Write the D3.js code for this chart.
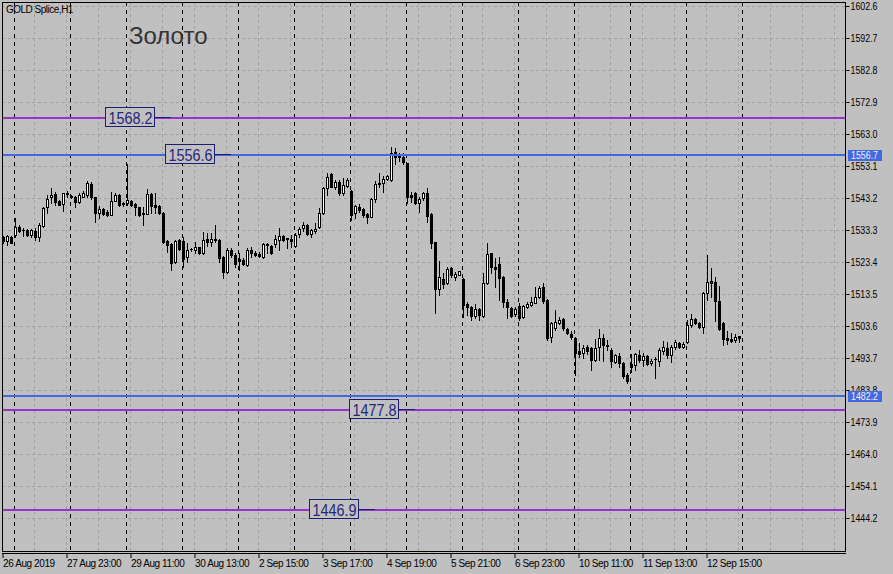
<!DOCTYPE html>
<html><head><meta charset="utf-8">
<script src="https://cdn.jsdelivr.net/npm/d3@7"></script>
<style>html,body{margin:0;padding:0;background:#c0c0c0;} svg{display:block;}</style>
</head><body><svg id="c" width="893" height="574"></svg>
<script>
const open=[1531.0,1530.0,1531.0,1531.7,1534.1,1533.3,1533.3,1531.7,1533.1,1531.2,1534.6,1540.3,1543.4,1544.4,1542.2,1541.4,1544.4,1543.8,1543.6,1541.9,
1543.6,1544.2,1547.5,1543.4,1538.5,1539.8,1539.0,1538.0,1542.4,1544.1,1541.6,1541.6,1542.2,1541.4,1540.3,1538.5,1538.3,1544.4,1541.0,1540.7,
1538.7,1530.0,1529.0,1523.5,1530.2,1530.0,1524.8,1527.3,1527.1,1527.9,1526.1,1530.5,1529.7,1530.5,1530.2,1525.0,1520.4,1527.1,1525.6,1524.3,
1524.0,1522.5,1527.1,1526.1,1525.8,1525.0,1528.9,1528.4,1528.9,1530.2,1531.5,1530.7,1530.4,1528.4,1532.0,1533.8,1534.8,1532.0,1532.9,1534.1,
1538.5,1546.2,1550.6,1546.5,1548.3,1544.6,1547.0,1545.5,1538.5,1540.5,1539.7,1538.3,1537.4,1542.8,1547.5,1547.9,1549.0,1548.8,1557.5,1556.5,
1556.0,1553.9,1544.1,1544.6,1541.8,1543.1,1544.9,1538.3,1529.6,1515.2,1518.0,1516.8,1521.4,1518.9,1519.5,1518.0,1510.4,1509.4,1506.8,1508.9,
1506.8,1517.0,1526.1,1522.0,1522.8,1518.9,1510.9,1509.3,1507.2,1509.8,1506.5,1509.6,1510.2,1510.8,1512.7,1515.8,1511.7,1500.1,1502.9,1504.6,
1505.7,1502.7,1501.1,1499.8,1496.0,1495.4,1497.0,1496.7,1493.1,1497.0,1499.8,1497.7,1496.2,1492.6,1494.3,1492.3,1488.4,1491.9,1491.5,1494.6,
1493.1,1494.3,1492.1,1493.5,1492.9,1496.0,1496.7,1494.6,1497.0,1498.2,1497.0,1498.8,1503.9,1505.7,1504.6,1503.4,1513.7,1517.6,1517.2,1511.4,
1504.5,1499.8,1499.6,1499.3,1500.5];
const high=[1531.5,1531.7,1531.5,1536.9,1534.8,1533.8,1533.5,1533.7,1533.8,1535.4,1540.5,1544.1,1546.2,1545.2,1542.6,1544.9,1545.5,1544.0,1543.8,1544.6,
1545.5,1548.6,1548.0,1543.6,1540.7,1540.0,1539.5,1545.2,1544.6,1544.4,1542.1,1553.7,1542.6,1541.8,1540.5,1540.5,1545.9,1544.6,1544.6,1540.9,
1538.9,1530.2,1529.2,1530.2,1530.6,1531.2,1529.2,1527.7,1529.7,1528.1,1532.8,1532.5,1532.3,1535.0,1530.4,1525.2,1527.6,1527.6,1526.1,1526.1,
1524.5,1527.6,1527.9,1526.9,1526.6,1529.2,1529.2,1528.6,1531.7,1533.8,1531.7,1530.9,1531.7,1532.3,1534.3,1535.9,1535.2,1533.5,1535.4,1540.0,
1546.5,1550.8,1550.8,1548.8,1548.8,1549.3,1549.3,1545.7,1541.0,1541.3,1540.0,1538.7,1543.1,1548.6,1550.8,1550.0,1550.3,1559.1,1558.6,1557.2,
1557.0,1554.1,1545.2,1545.2,1543.6,1545.2,1546.2,1538.5,1529.7,1523.8,1519.9,1522.0,1522.0,1520.4,1520.7,1518.4,1511.1,1509.8,1510.4,1509.1,
1520.1,1529.2,1526.3,1524.5,1524.8,1519.1,1511.9,1509.6,1509.6,1510.6,1510.1,1511.0,1512.7,1515.8,1516.0,1517.0,1512.0,1504.9,1508.6,1506.3,
1506.0,1503.0,1501.9,1500.3,1498.2,1497.7,1497.7,1497.0,1499.5,1502.6,1501.1,1499.3,1496.7,1494.9,1495.1,1492.6,1489.0,1494.9,1495.4,1496.2,
1495.1,1494.6,1493.5,1494.1,1496.7,1499.1,1498.8,1497.7,1499.3,1498.8,1498.5,1505.5,1507.3,1506.0,1504.9,1514.2,1525.6,1521.4,1518.9,1516.0,
1504.9,1501.9,1501.3,1501.0,1500.5];
const low=[1529.2,1528.8,1529.2,1531.2,1532.8,1531.5,1531.5,1531.0,1530.2,1530.0,1534.3,1538.5,1541.6,1541.0,1540.9,1539.3,1543.6,1543.2,1540.5,1541.6,
1543.4,1543.6,1542.8,1535.9,1536.9,1537.8,1537.6,1537.8,1542.2,1540.7,1540.7,1541.0,1540.7,1538.0,1537.6,1534.8,1538.1,1538.5,1538.5,1538.2,
1529.4,1526.6,1520.9,1523.0,1527.1,1522.0,1523.5,1526.9,1526.1,1525.9,1525.9,1528.4,1528.4,1529.7,1523.5,1518.4,1519.9,1525.0,1522.0,1520.9,
1522.5,1522.2,1525.0,1525.3,1524.8,1524.5,1526.1,1525.8,1528.1,1527.1,1530.0,1527.6,1527.9,1527.9,1531.2,1533.1,1531.7,1531.2,1532.5,1533.8,
1538.2,1544.1,1546.5,1545.9,1544.1,1544.1,1546.7,1536.4,1536.9,1539.0,1537.2,1535.6,1537.2,1542.1,1546.7,1545.2,1548.8,1548.6,1553.7,1554.8,
1553.7,1541.6,1542.1,1541.3,1539.0,1542.6,1535.9,1527.6,1507.5,1513.2,1515.3,1516.6,1518.9,1517.8,1519.3,1506.5,1507.0,1505.5,1506.0,1505.5,
1506.5,1516.6,1519.9,1515.8,1511.7,1509.6,1506.0,1506.5,1506.8,1505.5,1506.0,1509.1,1509.8,1510.6,1512.2,1510.8,1499.3,1498.8,1502.4,1504.2,
1502.4,1501.0,1499.5,1488.4,1494.1,1493.6,1494.9,1490.0,1492.9,1493.1,1492.9,1496.2,1491.0,1492.1,1491.0,1487.4,1485.9,1489.5,1490.0,1492.6,
1491.2,1491.5,1491.5,1487.4,1491.2,1494.9,1493.6,1492.6,1496.4,1496.7,1496.7,1498.2,1503.4,1504.2,1502.9,1501.5,1511.7,1512.7,1505.3,1502.4,
1497.7,1498.0,1498.8,1498.8,1498.8];
const close=[1530.0,1531.5,1529.4,1534.1,1533.1,1533.2,1531.7,1533.3,1531.0,1534.8,1540.0,1542.8,1544.0,1542.1,1541.1,1544.6,1544.6,1543.4,1542.1,1544.1,
1544.9,1547.7,1543.4,1538.7,1539.7,1538.3,1537.9,1542.4,1544.1,1541.0,1541.4,1542.5,1541.0,1540.3,1538.0,1538.2,1544.4,1540.7,1540.5,1538.5,
1529.7,1528.6,1523.2,1529.8,1527.3,1524.2,1527.1,1527.5,1527.9,1526.1,1530.2,1529.7,1530.5,1530.2,1524.7,1520.4,1527.1,1525.6,1522.8,1523.8,
1522.8,1527.1,1526.1,1525.6,1525.3,1529.0,1528.6,1526.1,1530.5,1531.5,1530.2,1530.5,1530.0,1531.7,1533.7,1534.8,1532.1,1533.3,1533.7,1538.5,
1546.2,1549.8,1546.7,1548.3,1544.9,1547.2,1548.8,1537.9,1540.7,1539.5,1537.9,1537.4,1542.8,1547.5,1547.9,1549.0,1550.0,1557.2,1556.0,1556.0,
1554.4,1543.6,1543.6,1541.6,1542.8,1544.9,1537.6,1529.4,1515.2,1518.9,1516.6,1521.1,1519.4,1519.7,1520.5,1510.2,1509.6,1506.8,1508.9,1507.0,
1516.8,1525.8,1521.8,1521.3,1518.4,1511.1,1509.4,1506.8,1508.9,1506.0,1509.9,1510.4,1511.0,1512.7,1515.4,1511.3,1500.0,1504.6,1504.8,1505.5,
1502.9,1501.3,1500.1,1495.4,1494.9,1496.7,1496.0,1493.1,1496.7,1499.8,1497.7,1497.5,1492.9,1494.6,1492.3,1488.1,1486.7,1491.0,1494.8,1493.1,
1494.3,1491.9,1492.9,1493.3,1496.2,1497.0,1494.6,1497.0,1498.5,1497.0,1498.0,1503.9,1505.7,1504.6,1503.4,1513.7,1517.3,1517.0,1511.4,1502.6,
1499.5,1499.3,1499.0,1500.1,1500.0];

const priceTicks=[1602.6,1592.7,1582.8,1572.9,1563.0,1553.1,1543.2,1533.3,1523.4,1513.5,1503.6,1493.7,1483.8,1473.9,1464.0,1454.1,1444.2];
const timeTickBars=[0,16,32,48,64,80,96,112,128,144,160,176];
const timeTickLabels=["26 Aug 2019","27 Aug 23:00","29 Aug 11:00","30 Aug 13:00","2 Sep 15:00","3 Sep 17:00","4 Sep 19:00","5 Sep 21:00","6 Sep 23:00","10 Sep 11:00","11 Sep 13:00","12 Sep 15:00"];
const separatorBars=[3,17,31,45,59,73,87,101,115,129,143,157,171,185];
const purpleLevels=[1568.2,1477.8,1446.9];
const blueLevels=[1556.7,1482.2];
const levelLabelTexts=["1568.2","1556.6","1477.8","1446.9"];
const levelLabelValues=[1568.2,1556.7,1477.8,1446.9];
const levelLabelBars=[25,40,86,76];
const axisMarkerValues=[1556.7,1482.2];
const symbolTitle="GOLD Splice,H1";
const chartTitle="Золото";

const W=893,H=574, L=2, R=846, T=2, B=551;
const n=open.length;
const x=d3.scaleLinear().domain([0,n-1]).range([3.5,3.5+4*(n-1)]);
const y=d3.scaleLinear().domain([1444.2,1602.6]).range([518,6]);
const yr=v=>Math.round(y(v));
const svg=d3.select('#c');
svg.append('rect').attr('width',W).attr('height',H).attr('fill','#c0c0c0');
svg.append('clipPath').attr('id','clip').append('rect').attr('x',L).attr('y',T).attr('width',R-L).attr('height',B-T);
const plot=svg.append('g').attr('clip-path','url(#clip)').attr('shape-rendering','crispEdges');

// grid
plot.selectAll('.hg').data(priceTicks).join('line')
  .attr('x1',L).attr('x2',R).attr('y1',d=>yr(d)+0.5).attr('y2',d=>yr(d)+0.5)
  .attr('stroke','#a0a0a0').attr('stroke-dasharray','3,3');
const gridBars=d3.range(8,8*27,8);
plot.selectAll('.vg').data(gridBars).join('line')
  .attr('x1',d=>x(d)-1).attr('x2',d=>x(d)-1).attr('y1',T).attr('y2',B)
  .attr('stroke','#a0a0a0').attr('stroke-dasharray','3,3');
plot.selectAll('.sep').data(separatorBars).join('line')
  .attr('x1',d=>x(d)-1).attr('x2',d=>x(d)-1).attr('y1',T).attr('y2',B)
  .attr('stroke','#000').attr('stroke-dasharray','4,4');

// candles
const idx=d3.range(n);
const cg=plot.append('g');
cg.selectAll('.wick').data(idx).join('line')
  .attr('x1',i=>x(i)).attr('x2',i=>x(i))
  .attr('y1',i=>yr(high[i])).attr('y2',i=>yr(low[i])+1)
  .attr('stroke','#000').attr('stroke-width',1);
cg.selectAll('.body').data(idx).join('rect')
  .each(function(i){
    const bull=close[i]>=open[i];
    const t=yr(Math.max(open[i],close[i])), b=yr(Math.min(open[i],close[i]));
    const s=d3.select(this);
    if(bull && b-t>=2){
      s.attr('x',x(i)-1).attr('y',t+0.5).attr('width',2).attr('height',b-t)
       .attr('fill','#fff').attr('stroke','#000').attr('stroke-width',1);
    } else {
      s.attr('x',x(i)-1.5).attr('y',t).attr('width',3).attr('height',Math.max(1,b-t+1))
       .attr('fill','#000');
    }
  });

// level lines
plot.selectAll('.pl').data(purpleLevels).join('line')
  .attr('x1',L).attr('x2',R).attr('y1',d=>yr(d)+0.5).attr('y2',d=>yr(d)+0.5)
  .attr('stroke','#9932cc').attr('stroke-width',2);
plot.selectAll('.bl').data(blueLevels).join('line')
  .attr('x1',L).attr('x2',R).attr('y1',d=>yr(d)+0.5).attr('y2',d=>yr(d)+0.5)
  .attr('stroke','#4169e1').attr('stroke-width',2);

// level labels
const lg=plot.selectAll('.lab').data(levelLabelTexts).join('g')
  .attr('transform',(d,i)=>`translate(${x(levelLabelBars[i])+2},${yr(levelLabelValues[i])})`);
lg.append('line').attr('x1',49).attr('x2',65).attr('y1',0.5).attr('y2',0.5).attr('stroke','#1c1c70');
lg.append('rect').attr('x',0).attr('y',-9.5).attr('width',49).attr('height',19)
  .attr('fill','#c0c0c0').attr('stroke','#1c1c70');
lg.append('text').text(d=>d).attr('x',3).attr('y',6.5)
  .attr('font-family','Liberation Sans, Arial, sans-serif').attr('font-size',17)
  .attr('textLength',44).attr('lengthAdjust','spacingAndGlyphs')
  .attr('fill','#26267a').attr('shape-rendering','auto');

// frame
svg.append('rect').attr('x',L+0.5).attr('y',T+0.5).attr('width',R-L-1).attr('height',B-T)
  .attr('fill','none').attr('stroke','#000').attr('shape-rendering','crispEdges');
svg.append('line').attr('x1',L).attr('x2',R).attr('y1',B+2.5).attr('y2',B+2.5).attr('stroke','#000');

// right axis
const ya=d3.axisRight(y).tickValues(priceTicks).tickFormat(d=>d.toFixed(1)).tickSize(4).tickSizeOuter(0).tickPadding(1);
const gy=svg.append('g').attr('transform',`translate(${R-0.5},0)`).call(ya);
gy.select('.domain').remove();
gy.selectAll('line').attr('stroke','#000');
gy.selectAll('text').attr('font-family','Liberation Sans, Arial, sans-serif').attr('font-size',10)
  .attr('fill','#000').attr('textLength',27).attr('lengthAdjust','spacingAndGlyphs').attr('dy','0.33em');

// axis markers
const mg=svg.selectAll('.mk').data(axisMarkerValues).join('g')
  .attr('transform',d=>`translate(${R+2},${yr(d)})`);
mg.append('rect').attr('x',0).attr('y',-4).attr('width',34).attr('height',11).attr('fill','#4169e1');
mg.append('text').text(d=>d.toFixed(1)).attr('x',3).attr('y',5)
  .attr('font-family','Liberation Sans, Arial, sans-serif').attr('font-size',10)
  .attr('textLength',27).attr('lengthAdjust','spacingAndGlyphs').attr('fill','#f0f0f0');

// bottom axis
const xa=d3.axisBottom(x).tickValues(timeTickBars).tickFormat((d,i)=>timeTickLabels[i]).tickSize(5).tickSizeOuter(0);
const gx=svg.append('g').attr('transform',`translate(-1,${B+2})`).call(xa);
gx.select('.domain').remove();
gx.selectAll('line').attr('stroke','#000');
gx.selectAll('text').attr('text-anchor','start').attr('x',0).attr('dy',null).attr('y',13.5)
  .attr('font-family','Liberation Sans, Arial, sans-serif').attr('font-size',10)
  .attr('letter-spacing','-0.4').attr('fill','#000');

// titles
svg.append('text').text(symbolTitle).attr('x',6).attr('y',13)
  .attr('font-family','Liberation Sans, Arial, sans-serif').attr('font-size',10)
  .attr('letter-spacing','-0.5').attr('fill','#000');
svg.append('text').text(chartTitle).attr('x',129).attr('y',44)
  .attr('font-family','Liberation Sans, Arial, sans-serif').attr('font-size',24)
  .attr('fill','#333');
</script></body></html>
